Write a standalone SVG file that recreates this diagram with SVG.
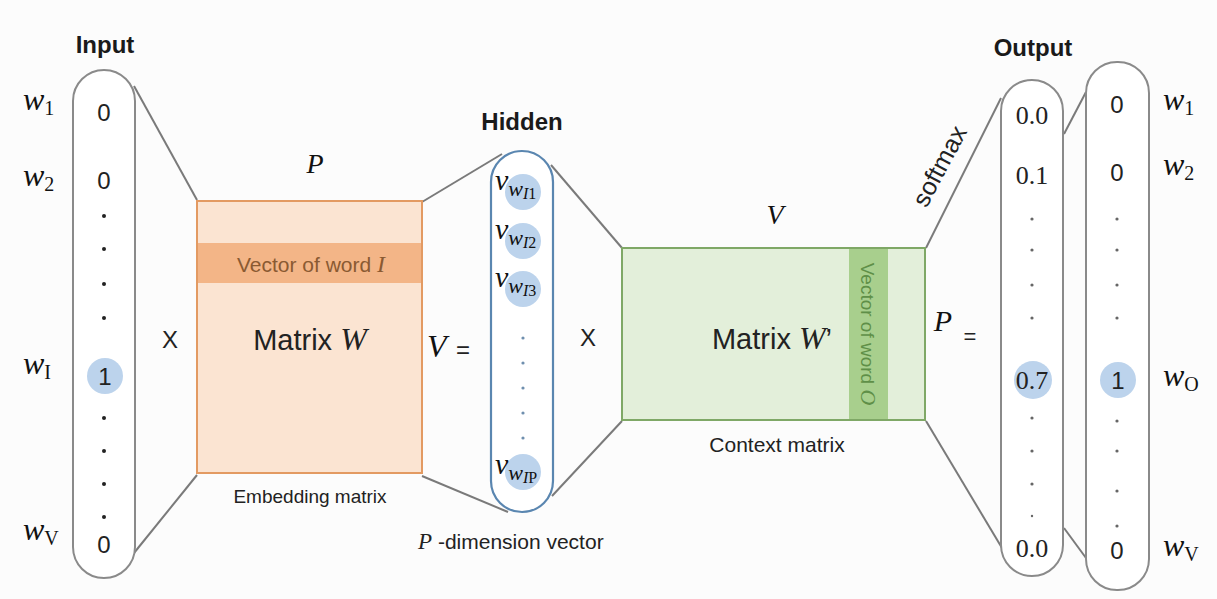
<svg xmlns="http://www.w3.org/2000/svg" width="1217" height="599" viewBox="0 0 1217 599">
  <defs>
    <style>
      .pill { fill: #ffffff; stroke: #8a8a8a; stroke-width: 2; }
      .hid { fill: #ffffff; stroke: #5a86b0; stroke-width: 2.2; }
      .conn { stroke: #7a7a7a; stroke-width: 2; fill: none; }
      .hl { fill: #bcd3ec; }
      .head { font-family: "Liberation Sans", Arial, sans-serif; font-weight: bold; font-size: 24px; fill: #1a1a1a; text-anchor: middle; }
      .sans { font-family: "Liberation Sans", Arial, sans-serif; fill: #222; }
      .num { font-family: "Liberation Sans", Arial, sans-serif; font-size: 24px; fill: #222; text-anchor: middle; }
      .snum { font-family: "Liberation Serif", "Times New Roman", serif; font-size: 26px; fill: #222; text-anchor: middle; }
      .math { font-family: "Liberation Serif", "Times New Roman", serif; fill: #111; }
      .it { font-style: italic; }
      .dot { fill: #222; }
      .gdot { fill: #666; }
      .bdot { fill: #6f8fae; }
    </style>
  </defs>
  <rect width="1217" height="599" fill="#fcfcfc"/>

  <!-- connectors between stages -->
  <g id="connectors">
    <line class="conn" x1="134" y1="86" x2="197" y2="200"/>
    <line class="conn" x1="134" y1="553" x2="197" y2="475"/>
    <line class="conn" x1="422" y1="202" x2="502" y2="154"/>
    <line class="conn" x1="422" y1="476" x2="508" y2="512"/>
    <line class="conn" x1="551" y1="165" x2="622" y2="248"/>
    <line class="conn" x1="552" y1="496" x2="622" y2="421"/>
    <line class="conn" x1="926" y1="248" x2="1001" y2="98"/>
    <line class="conn" x1="926" y1="421" x2="1002" y2="548"/>
    <line class="conn" x1="1064" y1="134" x2="1086" y2="92"/>
    <line class="conn" x1="1064" y1="528" x2="1086" y2="558"/>
  </g>

  <!-- input one-hot vector -->
  <g id="input">
    <text class="head" x="105" y="53">Input</text>
    <rect class="pill" x="73" y="70" width="62" height="508" rx="31"/>
    <circle class="hl" cx="105" cy="376" r="18"/>
    <text class="num" x="104" y="121">0</text>
    <text class="num" x="104" y="189">0</text>
    <circle class="dot" cx="104" cy="216" r="2"/>
    <circle class="dot" cx="104" cy="249" r="2"/>
    <circle class="dot" cx="104" cy="284" r="2"/>
    <circle class="dot" cx="104" cy="318" r="2"/>
    <text class="num" x="105" y="385">1</text>
    <circle class="dot" cx="104" cy="418" r="2"/>
    <circle class="dot" cx="104" cy="451" r="2"/>
    <circle class="dot" cx="104" cy="484" r="2"/>
    <circle class="dot" cx="104" cy="517" r="2"/>
    <text class="num" x="104" y="553">0</text>
    <text class="math" x="23" y="110"><tspan class="it" font-size="32">w</tspan><tspan font-size="20" dy="5">1</tspan></text>
    <text class="math" x="23" y="186"><tspan class="it" font-size="32">w</tspan><tspan font-size="20" dy="5">2</tspan></text>
    <text class="math" x="23" y="374"><tspan class="it" font-size="32">w</tspan><tspan font-size="20" dy="5">I</tspan></text>
    <text class="math" x="23" y="540"><tspan class="it" font-size="32">w</tspan><tspan font-size="20" dy="5">V</tspan></text>
  </g>

  <text class="sans" x="170" y="348" font-size="24" text-anchor="middle">X</text>

  <!-- embedding matrix W -->
  <g id="embedding-matrix">
    <text class="math it" x="315" y="173" font-size="28" text-anchor="middle">P</text>
    <rect x="197" y="201" width="225" height="272" fill="#fbe4d2" stroke="#e39a62" stroke-width="2"/>
    <rect x="198" y="243" width="223" height="40" fill="#f3b587"/>
    <text x="311" y="272" font-size="21" fill="#8a5a32" text-anchor="middle"><tspan font-family="Liberation Sans, Arial, sans-serif">Vector of word </tspan><tspan font-family="Liberation Serif, serif" font-style="italic" font-size="24">I</tspan></text>
    <text x="310" y="350" font-size="29" fill="#222" text-anchor="middle"><tspan font-family="Liberation Sans, Arial, sans-serif">Matrix </tspan><tspan font-family="Liberation Serif, serif" font-style="italic" font-size="32">W</tspan></text>
    <text class="sans" x="310" y="503" font-size="19" text-anchor="middle">Embedding matrix</text>
  </g>

  <text class="math it" x="427" y="357" font-size="32">V</text>
  <text class="sans" x="463" y="358" font-size="24" text-anchor="middle">=</text>

  <!-- hidden layer vector -->
  <g id="hidden">
    <text class="head" x="522" y="130">Hidden</text>
    <rect class="hid" x="491" y="151" width="62" height="361" rx="31"/>
    <circle class="hl" cx="523" cy="192" r="18"/>
    <circle class="hl" cx="523" cy="241" r="18"/>
    <circle class="hl" cx="523" cy="289" r="18"/>
    <circle class="hl" cx="523" cy="472" r="18"/>
    <text class="math" x="495" y="190"><tspan class="it" font-size="30">v</tspan><tspan class="it" font-size="22" dy="6">w</tspan><tspan class="it" font-size="16" dy="3">I</tspan><tspan font-size="16">1</tspan></text>
    <text class="math" x="495" y="239"><tspan class="it" font-size="30">v</tspan><tspan class="it" font-size="22" dy="6">w</tspan><tspan class="it" font-size="16" dy="3">I</tspan><tspan font-size="16">2</tspan></text>
    <text class="math" x="495" y="287"><tspan class="it" font-size="30">v</tspan><tspan class="it" font-size="22" dy="6">w</tspan><tspan class="it" font-size="16" dy="3">I</tspan><tspan font-size="16">3</tspan></text>
    <circle class="bdot" cx="523" cy="338" r="1.6"/>
    <circle class="bdot" cx="523" cy="363" r="1.6"/>
    <circle class="bdot" cx="523" cy="388" r="1.6"/>
    <circle class="bdot" cx="523" cy="413" r="1.6"/>
    <circle class="bdot" cx="523" cy="438" r="1.6"/>
    <text class="math" x="495" y="474"><tspan class="it" font-size="30">v</tspan><tspan class="it" font-size="22" dy="6">w</tspan><tspan class="it" font-size="16" dy="3">I</tspan><tspan font-size="16">P</tspan></text>
    <text x="418" y="549" font-size="21" fill="#222"><tspan font-family="Liberation Serif, serif" font-style="italic" font-size="23">P</tspan><tspan font-family="Liberation Sans, Arial, sans-serif"> -dimension vector</tspan></text>
  </g>

  <text class="sans" x="588" y="346" font-size="24" text-anchor="middle">X</text>

  <!-- context matrix W' -->
  <g id="context-matrix">
    <text class="math it" x="775" y="224" font-size="28" text-anchor="middle">V</text>
    <rect x="622" y="248" width="303" height="172" fill="#e3efda" stroke="#7fa866" stroke-width="2"/>
    <rect x="849" y="249" width="39" height="170" fill="#a8cf8d"/>
    <text transform="translate(861,334) rotate(90)" font-size="19" fill="#5f8f48" text-anchor="middle"><tspan font-family="Liberation Sans, Arial, sans-serif">Vector of word </tspan><tspan font-family="Liberation Serif, serif" font-style="italic" font-size="22">O</tspan></text>
    <text x="772" y="349" font-size="29" fill="#222" text-anchor="middle"><tspan font-family="Liberation Sans, Arial, sans-serif">Matrix </tspan><tspan font-family="Liberation Serif, serif" font-style="italic" font-size="32">W</tspan><tspan font-family="Liberation Sans, Arial, sans-serif">’</tspan></text>
    <text class="sans" x="777" y="452" font-size="21" text-anchor="middle">Context matrix</text>
  </g>

  <text class="math it" x="943" y="331" font-size="30" text-anchor="middle">P</text>
  <text class="sans" x="970" y="344" font-size="22" text-anchor="middle">=</text>
  <text class="sans" transform="translate(947,170) rotate(-62)" font-size="25" text-anchor="middle" fill="#333">softmax</text>

  <!-- softmax output probabilities -->
  <g id="output-probs">
    <text class="head" x="1033" y="56">Output</text>
    <rect class="pill" x="1001" y="80" width="62" height="496" rx="31"/>
    <circle class="hl" cx="1033" cy="380" r="19"/>
    <text class="snum" x="1032" y="124">0.0</text>
    <text class="snum" x="1032" y="184">0.1</text>
    <circle class="gdot" cx="1032" cy="219" r="1.6"/>
    <circle class="gdot" cx="1032" cy="250" r="1.6"/>
    <circle class="gdot" cx="1032" cy="285" r="1.6"/>
    <circle class="gdot" cx="1032" cy="318" r="1.6"/>
    <text class="snum" x="1032" y="389">0.7</text>
    <circle class="gdot" cx="1032" cy="418" r="1.6"/>
    <circle class="gdot" cx="1032" cy="451" r="1.6"/>
    <circle class="gdot" cx="1032" cy="484" r="1.6"/>
    <circle class="gdot" cx="1032" cy="516" r="1.2"/>
    <text class="snum" x="1032" y="557">0.0</text>
  </g>

  <!-- target one-hot vector -->
  <g id="output-target">
    <rect class="pill" x="1086" y="62" width="63" height="528" rx="31"/>
    <circle class="hl" cx="1118" cy="380" r="18"/>
    <text class="num" x="1117" y="113">0</text>
    <text class="num" x="1117" y="181">0</text>
    <circle class="gdot" cx="1117" cy="219" r="1.6"/>
    <circle class="gdot" cx="1117" cy="250" r="1.6"/>
    <circle class="gdot" cx="1117" cy="285" r="1.6"/>
    <circle class="gdot" cx="1117" cy="318" r="1.6"/>
    <text class="num" x="1118" y="389">1</text>
    <circle class="gdot" cx="1117" cy="421" r="1.6"/>
    <circle class="gdot" cx="1117" cy="451" r="1.6"/>
    <circle class="gdot" cx="1117" cy="491" r="1.6"/>
    <circle class="gdot" cx="1117" cy="526" r="1.6"/>
    <text class="num" x="1117" y="559">0</text>
    <text class="math" x="1163" y="110"><tspan class="it" font-size="32">w</tspan><tspan font-size="20" dy="5">1</tspan></text>
    <text class="math" x="1163" y="175"><tspan class="it" font-size="32">w</tspan><tspan font-size="20" dy="5">2</tspan></text>
    <text class="math" x="1163" y="386"><tspan class="it" font-size="32">w</tspan><tspan font-size="20" dy="5">O</tspan></text>
    <text class="math" x="1163" y="556"><tspan class="it" font-size="32">w</tspan><tspan font-size="20" dy="5">V</tspan></text>
  </g>
</svg>
